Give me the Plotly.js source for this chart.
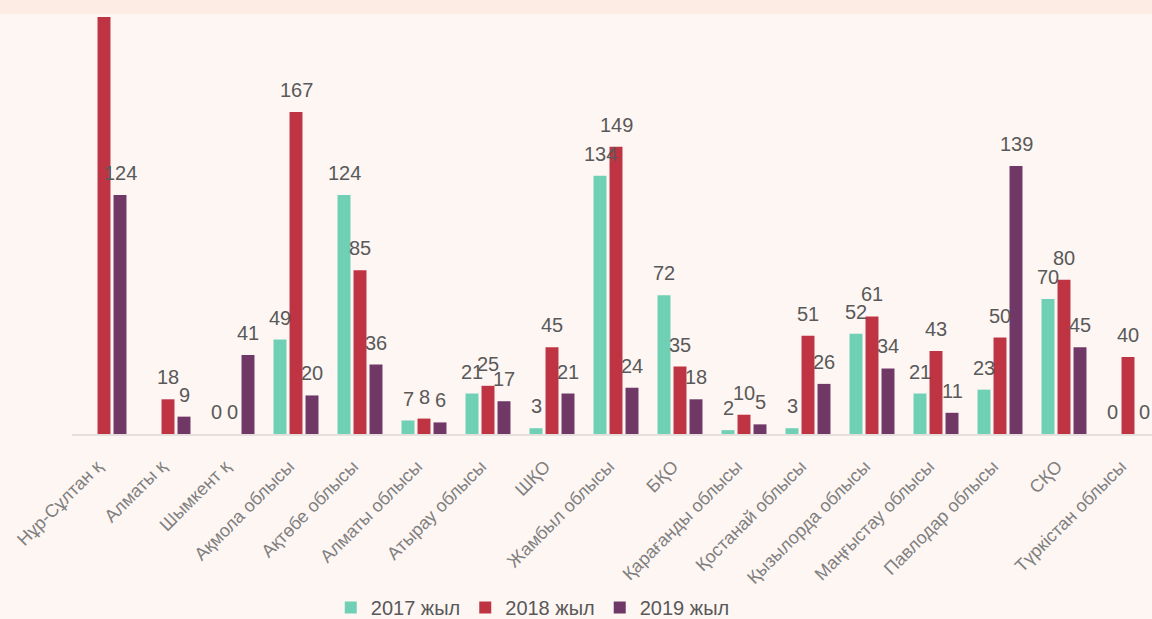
<!DOCTYPE html>
<html>
<head>
<meta charset="utf-8">
<script src="https://cdn.plot.ly/plotly-3.0.1.min.js"></script>
<style>
html,body{margin:0;padding:0;background:#fef6f3;}
#chart{width:1152px;height:619px;}
</style>
</head>
<body>
<div id="chart"></div>
<script>
const categories = ["Нұр-Сұлтан қ", "Алматы қ", "Шымкент қ", "Ақмола облысы", "Ақтөбе облысы", "Алматы облысы", "Атырау облысы", "ШҚО", "Жамбыл облысы", "БҚО", "Қарағанды облысы", "Қостанай облысы", "Қызылорда облысы", "Маңғыстау облысы", "Павлодар облысы", "СҚО", "Түркістан облысы"];
const values2017 = [null, null, 0, 49, 124, 7, 21, 3, 134, 72, 2, 3, 52, 21, 23, 70, 0];
const values2018 = [250, 18, 0, 167, 85, 8, 25, 45, 149, 35, 10, 51, 61, 43, 50, 80, 40];
const values2019 = [124, 9, 41, 20, 36, 6, 17, 21, 24, 18, 5, 26, 34, 11, 139, 45, 0];
const seriesNames = ["2017 жыл", "2018 жыл", "2019 жыл"];
const seriesColors = ["#6fd0b5", "#bf3442", "#6f3866"];

const allSeries = [values2017, values2018, values2019];
const FONT = "Liberation Sans, Arial, sans-serif";

const traces = allSeries.map((vals, i) => ({
  type: "bar",
  name: seriesNames[i],
  x: categories,
  y: vals,
  marker: {color: seriesColors[i], line: {width: 0}},
  hoverinfo: "x+y+name"
}));

const YMAX = 216.3;
const annotations = [];
const shifts = [-16, 0, 16];
allSeries.forEach((vals, i) => {
  vals.forEach((v, j) => {
    if (v === null || v > YMAX) return;
    annotations.push({
      x: categories[j], y: v, xref: "x", yref: "y",
      text: String(v), showarrow: false,
      xanchor: "center", yanchor: "bottom",
      xshift: shifts[i], yshift: 9,
      font: {family: FONT, size: 20, color: "#595959"}
    });
  });
});

const layout = {
  width: 1152, height: 619,
  margin: {l: 72, r: 0, t: 17, b: 185, pad: 0, autoexpand: false},
  paper_bgcolor: "#fef6f3",
  plot_bgcolor: "#fef6f3",
  barmode: "group",
  bargap: 0.25,
  bargroupgap: 0.19,
  showlegend: true,
  font: {family: FONT, color: "#595959"},
  xaxis: {
    type: "category",
    range: [-0.5, 16.375],
    automargin: false,
    showline: true, linecolor: "#e3dfdd", linewidth: 2,
    showgrid: false, zeroline: false,
    ticks: "", tickangle: -45,
    ticklabelstandoff: 13,
    ticklabelshift: -7,
    tickfont: {family: FONT, size: 18, color: "#808080"},
    fixedrange: true
  },
  yaxis: {
    range: [0, YMAX],
    automargin: false,
    visible: false, showgrid: false, zeroline: false,
    fixedrange: true
  },
  legend: {
    orientation: "h",
    x: 0.2396, xanchor: "left",
    y: -0.416, yanchor: "middle",
    font: {family: FONT, size: 20, color: "#595959"},
    bgcolor: "rgba(0,0,0,0)",
    itemclick: false
  },
  shapes: [{
    type: "rect", xref: "paper", yref: "paper",
    x0: -1, x1: 2, y0: 1 + 3/417, y1: 1.3,
    fillcolor: "#fdece4", line: {width: 0}, layer: "below"
  }],
  annotations: annotations
};

Plotly.newPlot("chart", traces, layout, {displayModeBar: false, staticPlot: true});
</script>
</body>
</html>
